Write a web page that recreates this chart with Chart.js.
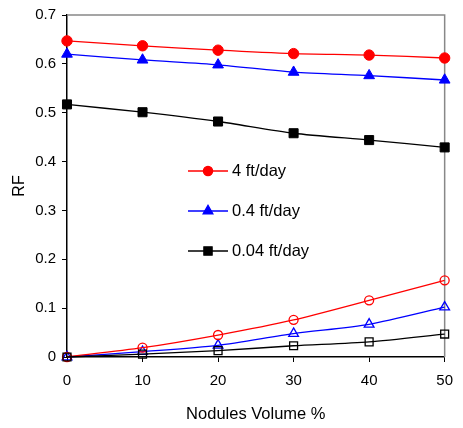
<!DOCTYPE html>
<html lang="en">
<head>
  <meta charset="UTF-8" />
  <title>RF vs Nodules Volume</title>
  <script src="https://cdn.jsdelivr.net/npm/chart.js"></script>
  <style>
    * { margin: 0; padding: 0; box-sizing: border-box; }
    body { background: #fff; width: 463px; height: 428px; overflow: hidden; }
    canvas { display: block; }
  </style>
</head>
<body>
  <canvas id="rfChart" width="463" height="428"></canvas>

  <script>
    const volume = [0, 10, 20, 30, 40, 50];

    // upper curves (filled markers)
    const rfHigh4 = [0.647, 0.637, 0.628, 0.621, 0.618, 0.612];
    const rfHigh04 = [0.620, 0.608, 0.598, 0.583, 0.576, 0.567];
    const rfHigh004 = [0.517, 0.501, 0.482, 0.458, 0.444, 0.429];

    // lower curves (open markers)
    const rfLow4 = [0, 0.019, 0.045, 0.076, 0.116, 0.157];
    const rfLow04 = [0, 0.011, 0.024, 0.048, 0.067, 0.102];
    const rfLow004 = [0, 0.006, 0.013, 0.023, 0.031, 0.047];

    const legendNames = ['4 ft/day', '0.4 ft/day', '0.04 ft/day'];

    const FONT = '"Liberation Sans", Arial, sans-serif';

    const pts = (arr) => arr.map((v, i) => ({ x: volume[i], y: v }));

    const line = (data, color, style, radius, filled) => ({
      data: pts(data),
      borderColor: color,
      borderWidth: 1.3,
      backgroundColor: filled ? color : '#ffffff',
      pointBackgroundColor: filled ? color : 'rgba(0,0,0,0)',
      pointBorderColor: color,
      pointBorderWidth: filled ? 1 : 1.3,
      pointStyle: style,
      pointRadius: radius,
      tension: 0.25,
      clip: false
    });

    const datasets = [
      line(rfLow004, '#000000', 'rect', 5.6, false),
      line(rfLow4, '#ff0000', 'circle', 4.5, false),
      line(rfLow04, '#0000ff', 'triangle', 5.6, false),
      line(rfHigh004, '#000000', 'rect', 6.4, true),
      line(rfHigh04, '#0000ff', 'triangle', 6.2, true),
      line(rfHigh4, '#ff0000', 'circle', 5.2, true)
    ];

    // gray frame on top and right of the plot area
    const framePlugin = {
      id: 'frame',
      beforeDatasetsDraw(chart) {
        const { ctx, chartArea: a } = chart;
        ctx.save();
        ctx.strokeStyle = '#888888';
        ctx.lineWidth = 1.5;
        ctx.beginPath();
        ctx.moveTo(a.left, a.top);
        ctx.lineTo(a.right, a.top);
        ctx.lineTo(a.right, a.bottom);
        ctx.stroke();
        ctx.restore();
      }
    };

    // legend placed inside the plot, one row per flow rate
    const inlineLegend = {
      id: 'inlineLegend',
      afterDatasetsDraw(chart) {
        const { ctx } = chart;
        const rows = [
          { ds: chart.data.datasets[5], y: 171 },
          { ds: chart.data.datasets[4], y: 211 },
          { ds: chart.data.datasets[3], y: 251 }
        ];
        ctx.save();
        rows.forEach((r, i) => {
          ctx.strokeStyle = r.ds.borderColor;
          ctx.lineWidth = 1.3;
          ctx.beginPath();
          ctx.moveTo(188, r.y);
          ctx.lineTo(228, r.y);
          ctx.stroke();
          ctx.fillStyle = r.ds.borderColor;
          Chart.helpers.drawPoint(ctx, {
            pointStyle: r.ds.pointStyle,
            radius: r.ds.pointRadius - 0.6,
            borderWidth: 1
          }, 208, r.y);
          ctx.fill();
          ctx.fillStyle = '#000000';
          ctx.font = '16.5px ' + FONT;
          ctx.textBaseline = 'middle';
          ctx.textAlign = 'left';
          ctx.fillText(legendNames[i], 232, r.y);
        });
        ctx.restore();
      }
    };

    new Chart(document.getElementById('rfChart'), {
      type: 'line',
      data: { datasets },
      options: {
        responsive: false,
        animation: false,
        devicePixelRatio: 1,
        layout: { padding: { top: 14, right: 11, left: 0, bottom: 0 } },
        plugins: { legend: { display: false }, tooltip: { enabled: false } },
        scales: {
          x: {
            type: 'linear',
            min: 0,
            max: 50,
            afterFit(scale) { scale.height = 71; },
            border: { color: '#000000', width: 1.5 },
            grid: { drawOnChartArea: false, tickLength: 5, tickColor: '#000000', tickWidth: 1 },
            ticks: {
              stepSize: 10,
              padding: 10,
              color: '#000000',
              font: { family: FONT, size: 15 }
            },
            title: {
              display: true,
              text: 'Nodules Volume %',
              color: '#000000',
              padding: { top: 8 },
              font: { family: FONT, size: 16.5 }
            }
          },
          y: {
            min: 0,
            max: 0.7,
            afterFit(scale) { scale.width = 67; },
            border: { color: '#000000', width: 1.5 },
            grid: { drawOnChartArea: false, tickLength: 5, tickColor: '#000000', tickWidth: 1 },
            ticks: {
              stepSize: 0.1,
              padding: 6,
              color: '#000000',
              font: { family: FONT, size: 15 },
              callback: (v) => v === 0 ? '0' : v.toFixed(1)
            },
            title: {
              display: true,
              text: 'RF',
              color: '#000000',
              padding: { top: 10 },
              font: { family: FONT, size: 16 }
            }
          }
        }
      },
      plugins: [framePlugin, inlineLegend]
    });
  </script>
</body>
</html>
